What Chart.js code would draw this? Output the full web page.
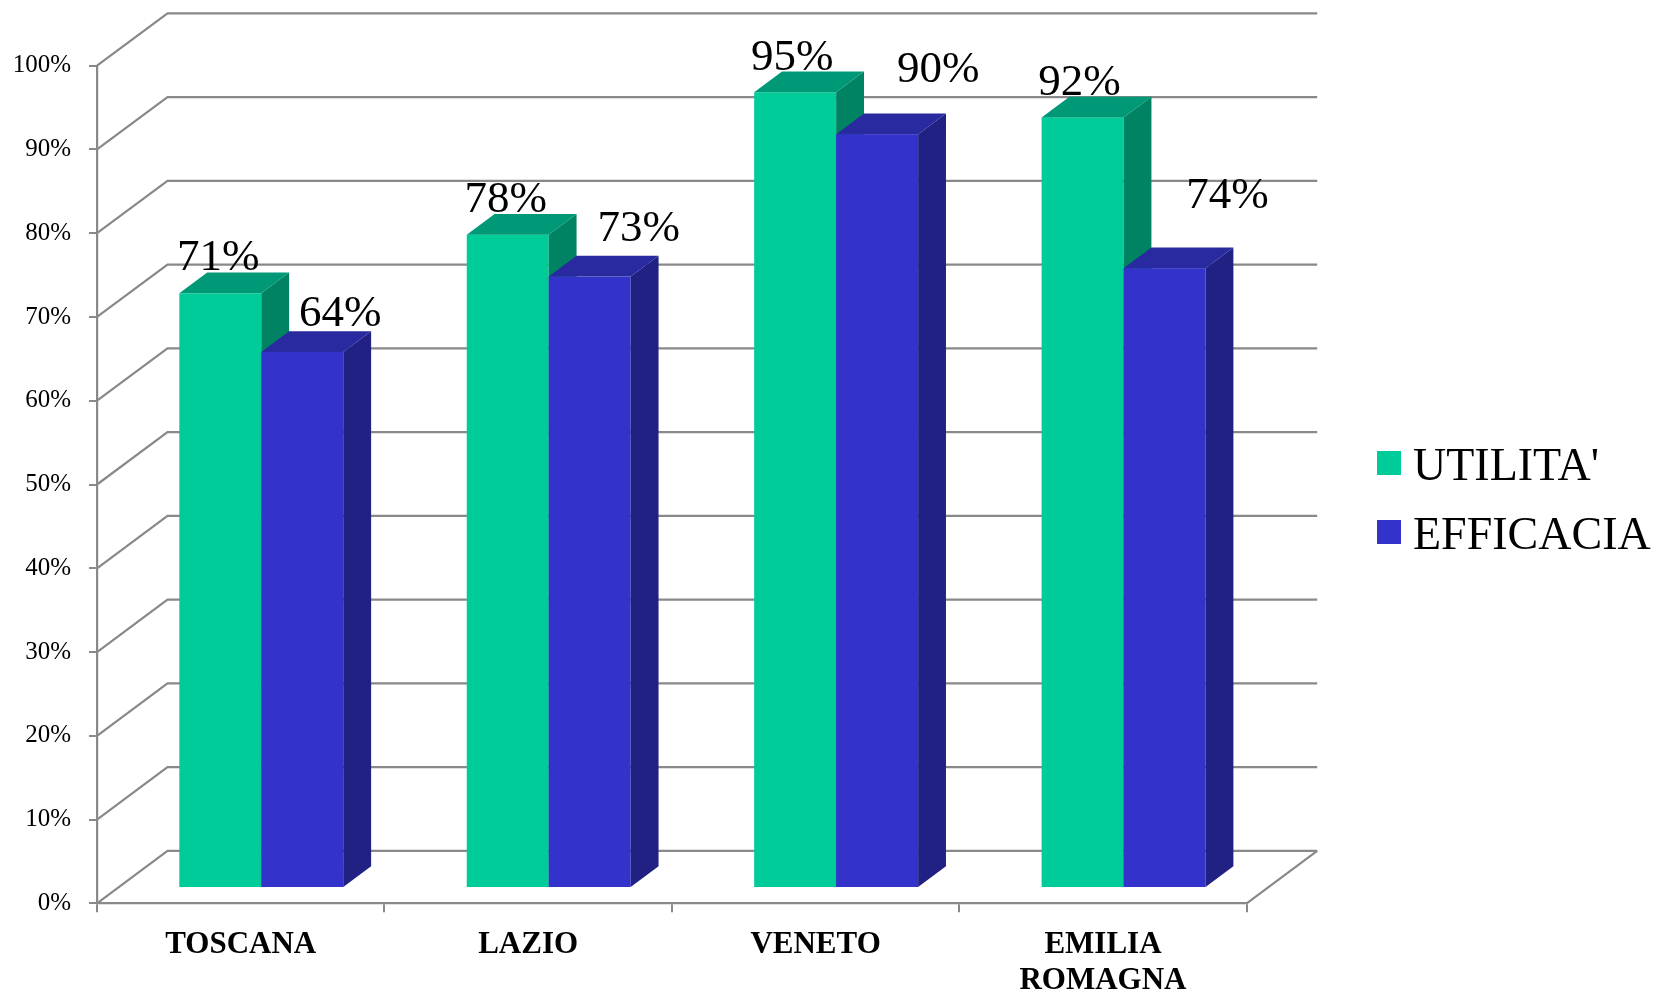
<!DOCTYPE html>
<html>
<head>
<meta charset="utf-8">
<script src="https://cdn.jsdelivr.net/npm/chart.js@4/dist/chart.umd.min.js"></script>
<style>
  html, body { margin: 0; padding: 0; background: #ffffff; }
  #wrap { width: 1664px; height: 995px; position: relative; }
</style>
</head>
<body>
<div id="wrap"><canvas id="chart"></canvas></div>
<script>
// Regions on the category axis
const categories = ['TOSCANA', 'LAZIO', 'VENETO', ['EMILIA', 'ROMAGNA']];

// Series values (percent)
const utilita = [71, 78, 95, 92];
const efficacia = [64, 73, 90, 74];

// Series names shown in the legend
const seriesNames = ["UTILITA'", 'EFFICACIA'];

// Value-axis ticks
const yTickStep = 10;
const yMax = 100;

// Hand placement of the value labels (px, relative to the top-front edge of each bar)
const labelShiftUtilitaX = [-2, -2, -3, -3];
const labelShiftUtilitaY = [-23, -23, -22, -22];
const labelShiftEfficaciaX = [38, 49, 61, 63];
const labelShiftEfficaciaY = [-26, -36, -52, -60];

// Face colours of the two boxes: front, top, side
const faces = [
  { front: '#00CC99', top: '#009977', side: '#008362' },
  { front: '#3333CC', top: '#2929A0', side: '#212183' }
];

const GRID = '#898989';
const SERIF = "'Liberation Serif', 'Times New Roman', serif";

// Oblique depth of the 3D box: full wall depth and where bars sit inside it
const DEPTH_X = 70.5, DEPTH_Y = 52.4;
const BAR_OFFSET = 0.292;   // gap between front plane and bar front
const BAR_DEPTH = 0.395;    // thickness of each bar

const shiftX = [labelShiftUtilitaX, labelShiftEfficaciaX];
const shiftY = [labelShiftUtilitaY, labelShiftEfficaciaY];

const box3d = {
  id: 'box3d',
  beforeDatasetsDraw(chart) {
    const ctx = chart.ctx;
    const { left, right, bottom } = chart.chartArea;
    const y = chart.scales.y;

    // side wall diagonals and back wall grid lines
    ctx.save();
    ctx.strokeStyle = GRID;
    ctx.lineWidth = 2.2;
    ctx.lineJoin = 'miter';
    y.ticks.forEach(t => {
      const py = y.getPixelForValue(t.value);
      ctx.beginPath();
      ctx.moveTo(left, py);
      ctx.lineTo(left + DEPTH_X, py - DEPTH_Y);
      ctx.lineTo(right + DEPTH_X, py - DEPTH_Y);
      ctx.stroke();
    });
    // right edge of the floor
    ctx.beginPath();
    ctx.moveTo(right, bottom);
    ctx.lineTo(right + DEPTH_X, bottom - DEPTH_Y);
    ctx.stroke();
    ctx.restore();

    // bars as boxes, drawn left to right so nearer faces cover farther ones
    const ox = DEPTH_X * BAR_OFFSET, oy = DEPTH_Y * BAR_OFFSET;
    const bx = DEPTH_X * BAR_DEPTH, by = DEPTH_Y * BAR_DEPTH;
    const metas = chart.data.datasets.map((d, i) => chart.getDatasetMeta(i));
    const n = chart.data.labels.length;
    const labels = [];
    ctx.save();
    for (let c = 0; c < n; c++) {
      metas.forEach((meta, s) => {
        const el = meta.data[c];
        const p = el.getProps(['x', 'y', 'base', 'width'], true);
        const L = p.x - p.width / 2 + ox;
        const R = L + p.width;
        const T = p.y - oy;
        const B = p.base - oy;
        const col = faces[s];
        ctx.fillStyle = col.front;
        ctx.fillRect(L, T, R - L, B - T);
        ctx.fillStyle = col.side;
        ctx.beginPath();
        ctx.moveTo(R, T); ctx.lineTo(R + bx, T - by); ctx.lineTo(R + bx, B - by); ctx.lineTo(R, B);
        ctx.closePath(); ctx.fill();
        ctx.fillStyle = col.top;
        ctx.beginPath();
        ctx.moveTo(L, T); ctx.lineTo(L + bx, T - by); ctx.lineTo(R + bx, T - by); ctx.lineTo(R, T);
        ctx.closePath(); ctx.fill();
        const v = chart.data.datasets[s].data[c];
        labels.push({ text: v + '%', x: (L + R) / 2 + shiftX[s][c], y: T + shiftY[s][c] });
      });
    }
    // value labels
    ctx.fillStyle = '#000000';
    ctx.font = '45px ' + SERIF;
    ctx.textAlign = 'center';
    ctx.textBaseline = 'alphabetic';
    labels.forEach(l => ctx.fillText(l.text, l.x, l.y));
    ctx.restore();
    return false;
  },
  afterDraw(chart) {
    // legend at the right
    const ctx = chart.ctx;
    ctx.save();
    ctx.font = '46px ' + SERIF;
    ctx.textAlign = 'left';
    ctx.textBaseline = 'alphabetic';
    const rows = [463, 532];
    chart.data.datasets.forEach((ds, i) => {
      const cy = rows[i];
      ctx.fillStyle = ds.backgroundColor;
      ctx.fillRect(1377, cy - 12, 24, 24);
      ctx.fillStyle = '#000000';
      ctx.fillText(ds.label, 1413, cy + 17);
    });
    ctx.restore();
  }
};

new Chart(document.getElementById('chart'), {
  type: 'bar',
  data: {
    labels: categories,
    datasets: [
      { label: seriesNames[0], data: utilita, backgroundColor: faces[0].front },
      { label: seriesNames[1], data: efficacia, backgroundColor: faces[1].front }
    ]
  },
  options: {
    responsive: true,
    maintainAspectRatio: false,
    animation: false,
    events: [],
    layout: { padding: { top: 65.7, right: 417.3, bottom: 0, left: 0 } },
    datasets: { bar: { categoryPercentage: 0.5704, barPercentage: 1 } },
    plugins: { legend: { display: false }, tooltip: { enabled: false } },
    scales: {
      x: {
        offset: true,
        grid: { display: true, offset: true, drawOnChartArea: false, drawTicks: true, tickLength: 9, color: GRID, lineWidth: 2 },
        border: { display: true, color: GRID, width: 2.2 },
        ticks: {
          color: '#000000',
          padding: 14,
          maxRotation: 0,
          autoSkip: false,
          font: { family: SERIF, size: 31, weight: 'bold', lineHeight: 1.18 }
        },
        afterFit(scale) { scale.height = 91.7; }
      },
      y: {
        min: 0,
        max: yMax,
        grid: { display: true, drawOnChartArea: false, drawTicks: true, tickLength: 8, color: GRID, lineWidth: 2 },
        border: { display: true, color: GRID, width: 2.2 },
        ticks: {
          stepSize: yTickStep,
          color: '#000000',
          padding: 18,
          font: { family: SERIF, size: 25 },
          callback: v => v + '%'
        },
        afterFit(scale) { scale.width = 97; }
      }
    }
  },
  plugins: [box3d]
});
</script>
</body>
</html>
